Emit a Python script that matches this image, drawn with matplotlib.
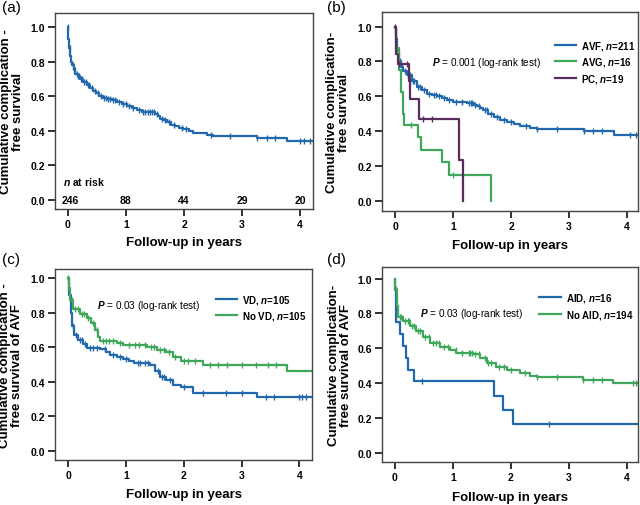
"""
Kaplan-Meier curves, complication-free survival (4 panels)
"""
import matplotlib
matplotlib.use('Agg')
import matplotlib.pyplot as plt
import numpy as np

plt.rcParams['font.family'] = ['Liberation Sans', 'DejaVu Sans']
plt.rcParams['font.weight'] = 'bold'
plt.rcParams['axes.labelweight'] = 'bold'
plt.rcParams['mathtext.fontset'] = 'custom'
plt.rcParams['mathtext.it'] = 'Liberation Sans:italic'
plt.rcParams['mathtext.bfit'] = 'Liberation Sans:italic:bold'
plt.rcParams['mathtext.rm'] = 'Liberation Sans'

BLUE = '#2268ad'
GREEN = '#3fa75a'
PURPLE = '#5b2b5c'

# ---- data ----
# (a) all accesses
a_times = [0, 0.005, 0.02, 0.04, 0.06, 0.08, 0.1, 0.13, 0.17, 0.21, 0.27, 0.33, 0.39,
           0.44, 0.49, 0.53, 0.6, 0.67, 0.76, 0.84, 0.93, 1.02, 1.1, 1.19, 1.28, 1.36,
           1.5, 1.55, 1.59, 1.65, 1.7, 1.78, 1.85, 1.92, 1.99, 2.08, 2.16, 2.39, 2.5,
           3.25, 3.77, 4.22]
a_surv = [1.0, 0.93, 0.88, 0.83, 0.80, 0.78, 0.75, 0.73, 0.715, 0.70, 0.68, 0.665, 0.645,
          0.63, 0.615, 0.60, 0.59, 0.585, 0.575, 0.565, 0.555, 0.54, 0.53, 0.52, 0.51,
          0.505, 0.495, 0.485, 0.47, 0.46, 0.45, 0.435, 0.425, 0.415, 0.41, 0.395, 0.385,
          0.375, 0.37, 0.36, 0.34, 0.34]
a_cens = [0.0, 0.03, 0.09, 0.12, 0.15, 0.18, 0.2, 0.23, 0.25, 0.28, 0.31, 0.35, 0.37,
          0.41, 0.46, 0.52, 0.57, 0.62, 0.66, 0.7, 0.73, 0.78, 0.82, 0.88, 0.95, 1.0,
          1.05, 1.13, 1.22, 1.3, 1.33, 1.38, 1.42, 1.45, 1.48, 1.53, 1.62, 1.68, 1.75,
          1.82, 1.97, 2.03, 2.47, 2.8, 3.25, 3.42, 3.57, 4.0, 4.06, 4.17]
risk_years = [0, 1, 2, 3, 4]
risk_n = [246, 88, 44, 29, 20]

# (b) access type
avf_times = [0, 0.005, 0.03, 0.06, 0.09, 0.14, 0.2, 0.28, 0.37, 0.46, 0.55, 0.63, 0.72,
             0.8, 0.89, 1.0, 1.24, 1.35, 1.41, 1.47, 1.52, 1.6, 1.7, 1.8, 1.93, 2.05,
             2.16, 2.33, 2.45, 3.25, 3.77, 4.19]
avf_surv = [1.0, 0.93, 0.86, 0.80, 0.77, 0.745, 0.72, 0.69, 0.655, 0.635, 0.615, 0.605,
            0.60, 0.59, 0.58, 0.565, 0.56, 0.55, 0.545, 0.53, 0.52, 0.50, 0.48, 0.465,
            0.455, 0.44, 0.43, 0.42, 0.41, 0.40, 0.38, 0.38]
avf_cens = [0.02, 0.08, 0.11, 0.16, 0.22, 0.25, 0.3, 0.33, 0.4, 0.43, 0.5, 0.58, 0.66,
            0.7, 0.76, 0.84, 0.92, 1.05, 1.15, 1.27, 1.3, 1.33, 1.38, 1.44, 1.55, 1.58,
            1.65, 1.75, 1.88, 2.0, 2.25, 2.45, 2.8, 3.25, 3.42, 3.57, 4.05, 4.15]
avg_times = [0, 0.02, 0.06, 0.09, 0.13, 0.155, 0.39, 0.44, 0.8, 0.93, 1.65]
avg_surv = [1.0, 0.875, 0.75, 0.625, 0.5, 0.4375, 0.365, 0.29, 0.22, 0.146, 0.0]
avg_cens = [0.02, 0.27, 1.0]
pc_times = [0, 0.005, 0.02, 0.05, 0.24, 0.26, 0.41, 1.1, 1.17]
pc_surv = [1.0, 0.895, 0.84, 0.786, 0.686, 0.584, 0.467, 0.233, 0.0]
pc_cens = [0.0, 0.06, 0.21, 0.25, 0.47, 0.63]

# (c) vascular disease
vd_times = [0, 0.005, 0.02, 0.04, 0.06, 0.1, 0.17, 0.26, 0.32, 0.55, 0.66, 0.72, 0.84,
            0.95, 1.05, 1.13, 1.41, 1.5, 1.59, 1.7, 1.82, 1.96, 2.16, 3.26, 4.22]
vd_surv = [1.0, 0.94, 0.90, 0.80, 0.72, 0.67, 0.64, 0.62, 0.595, 0.59, 0.575, 0.555,
           0.545, 0.53, 0.52, 0.51, 0.495, 0.46, 0.43, 0.41, 0.38, 0.37, 0.335, 0.31, 0.31]
vd_cens = [0.08, 0.13, 0.2, 0.23, 0.29, 0.37, 0.43, 0.5, 0.63, 0.78, 0.9, 1.0, 1.2, 1.25,
           1.32, 1.38, 1.55, 1.63, 1.66, 1.76, 2.0, 2.33, 2.73, 3.0, 3.43, 3.57, 4.0,
           4.05, 4.12]
novd_times = [0, 0.005, 0.03, 0.09, 0.2, 0.32, 0.4, 0.46, 0.52, 0.55, 0.84, 0.95, 1.36,
              1.53, 1.7, 1.82, 1.96, 2.34, 3.78, 4.22]
novd_surv = [1.0, 0.94, 0.87, 0.82, 0.79, 0.77, 0.74, 0.70, 0.66, 0.635, 0.625, 0.615,
             0.60, 0.585, 0.57, 0.545, 0.52, 0.495, 0.46, 0.46]
novd_cens = [0.0, 0.06, 0.12, 0.16, 0.24, 0.28, 0.35, 0.43, 0.5, 0.6, 0.65, 0.7, 0.78,
             0.9, 1.05, 1.15, 1.23, 1.33, 1.43, 1.48, 1.58, 1.65, 1.75, 1.85, 2.0, 2.08,
             2.2, 2.45, 2.6, 2.75, 3.0, 3.25, 3.45, 3.6]

# (d) autoimmune disease
aid_times = [0, 0.005, 0.01, 0.015, 0.02, 0.09, 0.13, 0.19, 0.22, 0.32, 1.7, 1.86, 2.03, 4.19]
aid_surv = [1.0, 0.9375, 0.875, 0.8125, 0.75, 0.682, 0.614, 0.545, 0.477, 0.409, 0.327,
            0.245, 0.164, 0.164]
aid_cens = [0.46, 2.66]
noaid_times = [0, 0.005, 0.03, 0.06, 0.14, 0.26, 0.37, 0.49, 0.6, 0.78, 0.95, 1.06, 1.35,
               1.47, 1.58, 1.75, 1.93, 2.16, 2.33, 2.44, 3.25, 3.76, 4.19]
noaid_surv = [1.0, 0.94, 0.84, 0.78, 0.755, 0.73, 0.70, 0.665, 0.63, 0.605, 0.59, 0.575,
              0.565, 0.545, 0.515, 0.495, 0.475, 0.455, 0.44, 0.435, 0.42, 0.40, 0.40]
noaid_cens = [0.02, 0.08, 0.11, 0.17, 0.22, 0.25, 0.3, 0.33, 0.4, 0.43, 0.52, 0.58, 0.66,
              0.7, 0.76, 0.84, 0.92, 1.05, 1.15, 1.27, 1.3, 1.33, 1.38, 1.44, 1.55, 1.6,
              1.65, 1.8, 1.88, 2.0, 2.25, 2.45, 2.8, 3.25, 3.42, 3.57, 4.1, 4.15]


def km_plot(ax, times, surv, cens, color, label=None):
    times = np.asarray(times)
    surv = np.asarray(surv)
    ax.step(times, surv, where='post', color=color, lw=1.6, label=label)
    idx = np.searchsorted(times, cens, side='right') - 1
    ax.plot(cens, surv[idx], ls='none', marker='|', ms=5, mew=1.0, color=color)


def style_axes(ax, xlim, ylim, ylabel, label_x, xlab_y):
    ax.set_xlim(*xlim)
    ax.set_ylim(*ylim)
    ax.set_xticks([0, 1, 2, 3, 4])
    ax.set_yticks([0, 0.2, 0.4, 0.6, 0.8, 1.0])
    ax.set_yticklabels(['0.0', '0.2', '0.4', '0.6', '0.8', '1.0'])
    ax.tick_params(direction='out', length=5, width=1.3, labelsize=7.5, pad=2,
                   color='#222222')
    for s in ax.spines.values():
        s.set_color('#444444')
        s.set_linewidth(1.0)
    ax.set_ylabel(ylabel, fontsize=9.5, fontweight='bold', linespacing=1.0)
    ax.yaxis.set_label_coords(label_x, 0.5)
    ax.set_xlabel('Follow-up in years', fontsize=9.5, fontweight='bold')
    ax.xaxis.set_label_coords(0.5, xlab_y)


def add_legend(ax, anchor):
    ax.legend(loc='upper left', bbox_to_anchor=anchor, frameon=False,
              fontsize=7, handlelength=2.2, handletextpad=0.5, labelspacing=0.35,
              borderpad=0, borderaxespad=0)


fig = plt.figure(figsize=(6.4, 5.06), dpi=100)
ax_a = fig.add_axes([55 / 640, 1 - 210 / 506, 258 / 640, 196 / 506])
ax_b = fig.add_axes([382 / 640, 1 - 212 / 506, 256 / 640, 199 / 506])
ax_c = fig.add_axes([55 / 640, 1 - 461 / 506, 257 / 640, 191 / 506])
ax_d = fig.add_axes([382 / 640, 1 - 463 / 506, 256 / 640, 195 / 506])

# panel letters
for px, py, lab in [(2, 1, '(a)'), (327, 1, '(b)'), (2, 253, '(c)'), (327, 253, '(d)')]:
    fig.text(px / 640, 1 - py / 506, lab, fontsize=11, fontweight='normal',
             ha='left', va='top')

# (a)
km_plot(ax_a, a_times, a_surv, a_cens, BLUE)
ax_a.text(-0.09, 0.11, r'$\mathbfit{n}$ at risk', fontsize=7.5, ha='left', va='center')
for yr, n in zip(risk_years, risk_n):
    ax_a.text(yr + 0.05 * (yr == 0), 0.0, str(n), fontsize=7.5, ha='center', va='center')
style_axes(ax_a, (-0.22, 4.22), (-0.054, 1.081),
           'Cumulative complication -\nfree survival', -0.12, -0.138)

# (b)
km_plot(ax_b, avf_times, avf_surv, avf_cens, BLUE, r'AVF, $\mathbfit{n}$=211')
km_plot(ax_b, avg_times, avg_surv, avg_cens, GREEN, r'AVG, $\mathbfit{n}$=16')
km_plot(ax_b, pc_times, pc_surv, pc_cens, PURPLE, r'PC, $\mathbfit{n}$=19')
ax_b.text(0.634, 0.797, r'$P$ = 0.001 (log-rank test)', fontsize=7.2,
          fontweight='normal', ha='left', va='center')
add_legend(ax_b, (0.675, 0.865))
style_axes(ax_b, (-0.23, 4.19), (-0.059, 1.084),
           'Cumulative complication-\nfree survival', -0.125, -0.14)

# (c)
km_plot(ax_c, vd_times, vd_surv, vd_cens, BLUE, r'VD, $\mathbfit{n}$=105')
km_plot(ax_c, novd_times, novd_surv, novd_cens, GREEN, r'No VD, $\mathbfit{n}$=105')
ax_c.text(0.49, 0.842, r'$P$ = 0.03 (log-rank test)', fontsize=7.2,
          fontweight='normal', ha='left', va='center')
add_legend(ax_c, (0.625, 0.875))
style_axes(ax_c, (-0.23, 4.22), (-0.052, 1.052),
           'Cumulative complication -\nfree survival of AVF', -0.125, -0.147)

# (d)
km_plot(ax_d, aid_times, aid_surv, aid_cens, BLUE, r'AID, $\mathbfit{n}$=16')
km_plot(ax_d, noaid_times, noaid_surv, noaid_cens, GREEN, r'No AID, $\mathbfit{n}$=194')
ax_d.text(0.43, 0.80, r'$P$ = 0.03 (log-rank test)', fontsize=7.2,
          fontweight='normal', ha='left', va='center')
add_legend(ax_d, (0.615, 0.875))
style_axes(ax_d, (-0.224, 4.19), (-0.054, 1.067),
           'Cumulative complication-\nfree survival of AVF', -0.117, -0.149)

plt.savefig('out.png', dpi=100)
plt.close()
